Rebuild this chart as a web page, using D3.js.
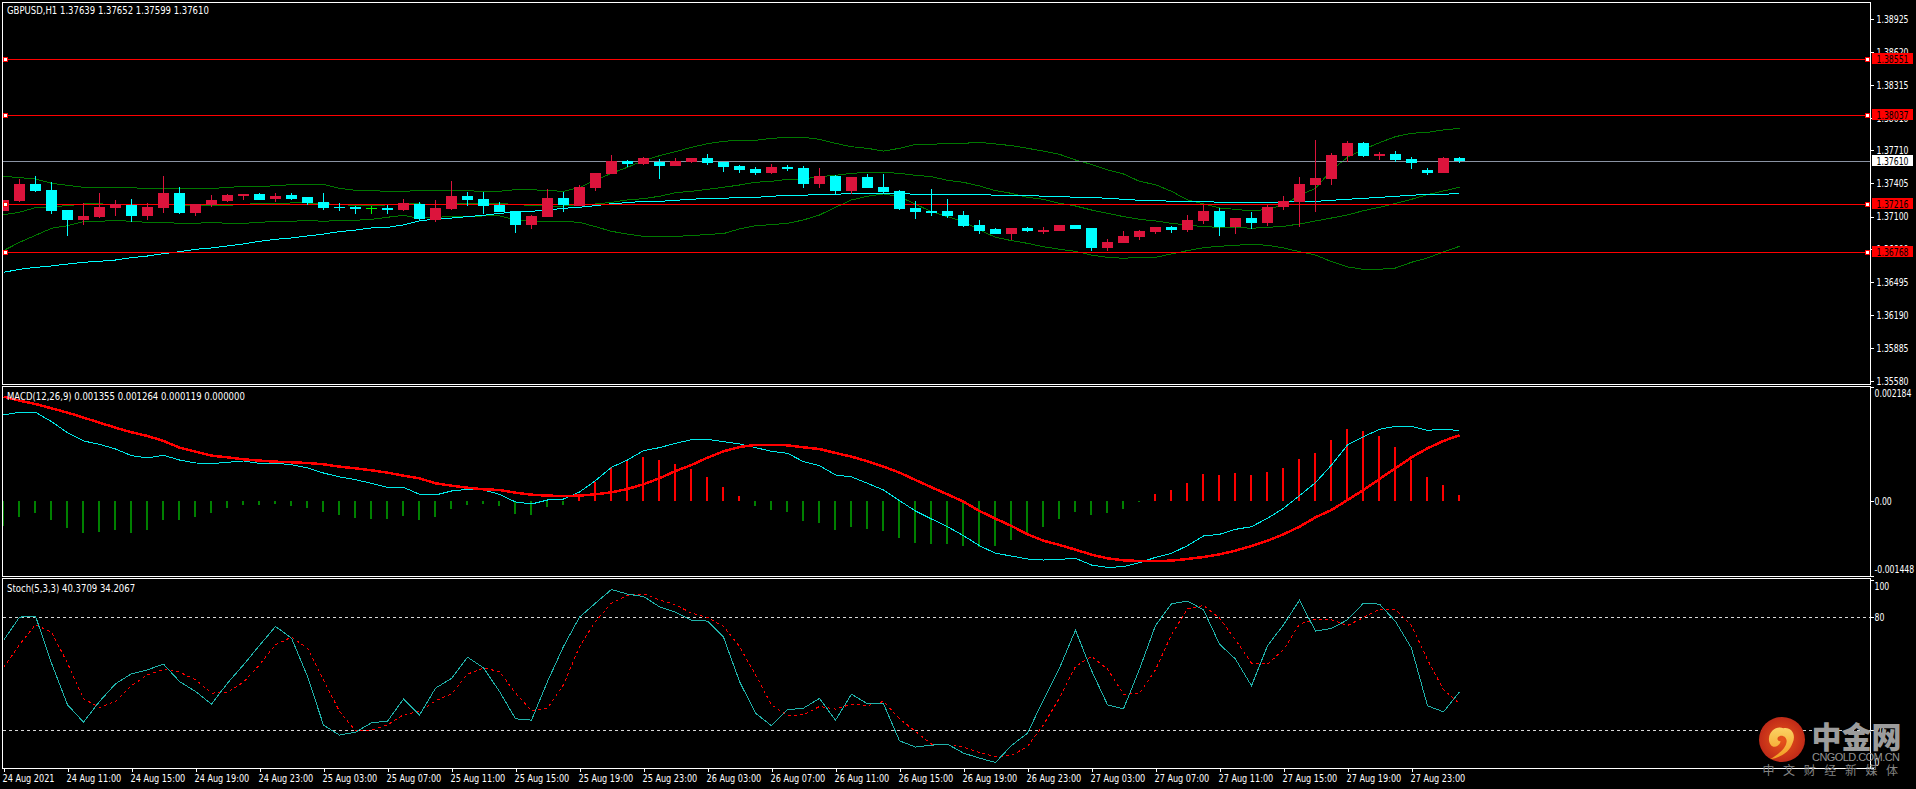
<!DOCTYPE html>
<html lang="zh-CN">
<head>
<meta charset="utf-8">
<title>GBPUSD H1</title>
<script src="https://cdn.jsdelivr.net/npm/d3@7/dist/d3.min.js"></script>
<style>
  html, body { margin: 0; padding: 0; background: #000; overflow: hidden; }
  svg { display: block; }
  text { font-family: "DejaVu Sans", sans-serif; font-stretch: condensed; font-size: 10px; fill: #fff; }
  .crisp { shape-rendering: crispEdges; }
</style>
</head>
<body>
<svg id="chart" width="1916" height="789"></svg>
<script>
// Hourly GBPUSD bars, 24 Aug 2021 07:00 onwards
const opens = [1.37151,1.37243,1.37401,1.37345,1.37160,1.37068,1.37096,1.37179,1.37207,1.37105,1.37179,1.37317,1.37133,1.37207,1.37243,1.37290,1.37308,1.37262,1.37299,1.37280,1.37234,1.37188,1.37188,1.37179,1.37179,1.37160,1.37216,1.37068,1.37170,1.37290,1.37262,1.37207,1.37151,1.37022,1.37096,1.37271,1.37197,1.37364,1.37493,1.37613,1.37585,1.37604,1.37567,1.37604,1.37641,1.37604,1.37567,1.37539,1.37502,1.37558,1.37548,1.37401,1.37475,1.37336,1.37465,1.37373,1.37336,1.37179,1.37151,1.37151,1.37114,1.37022,1.36985,1.36939,1.36994,1.36957,1.36966,1.37022,1.36994,1.36809,1.36855,1.36911,1.36957,1.37003,1.36976,1.37059,1.37151,1.37003,1.37086,1.37040,1.37188,1.37234,1.37391,1.37447,1.37659,1.37779,1.37659,1.37678,1.37632,1.37530,1.37502,1.37639];
const highs = [1.37253,1.37447,1.37475,1.37419,1.37160,1.37225,1.37317,1.37253,1.37262,1.37225,1.37475,1.37373,1.37216,1.37299,1.37308,1.37308,1.37317,1.37317,1.37317,1.37280,1.37317,1.37225,1.37197,1.37197,1.37207,1.37262,1.37234,1.37253,1.37428,1.37327,1.37327,1.37234,1.37151,1.37114,1.37354,1.37327,1.37391,1.37502,1.37669,1.37622,1.37650,1.37632,1.37641,1.37641,1.37678,1.37604,1.37576,1.37558,1.37585,1.37576,1.37567,1.37548,1.37484,1.37465,1.37493,1.37493,1.37345,1.37243,1.37354,1.37262,1.37151,1.37068,1.36994,1.36994,1.37003,1.37003,1.37022,1.37022,1.36994,1.36892,1.36966,1.36976,1.37003,1.37012,1.37114,1.37207,1.37179,1.37086,1.37142,1.37207,1.37290,1.37465,1.37807,1.37687,1.37798,1.37789,1.37696,1.37705,1.37650,1.37548,1.37650,1.37652];
const lows = [1.37151,1.37234,1.37327,1.37123,1.36920,1.37022,1.37086,1.37105,1.37049,1.37068,1.37133,1.37123,1.37105,1.37188,1.37234,1.37253,1.37253,1.37234,1.37253,1.37207,1.37160,1.37151,1.37123,1.37123,1.37123,1.37151,1.37068,1.37049,1.37160,1.37197,1.37123,1.37142,1.36948,1.36985,1.37096,1.37142,1.37197,1.37336,1.37493,1.37558,1.37576,1.37447,1.37567,1.37595,1.37576,1.37511,1.37502,1.37484,1.37493,1.37521,1.37364,1.37364,1.37308,1.37308,1.37364,1.37308,1.37160,1.37077,1.37105,1.37086,1.37003,1.36939,1.36939,1.36883,1.36957,1.36939,1.36966,1.36985,1.36782,1.36782,1.36855,1.36883,1.36939,1.36948,1.36957,1.37031,1.36920,1.36939,1.36985,1.37012,1.37160,1.37003,1.37142,1.37391,1.37604,1.37650,1.37622,1.37604,1.37539,1.37484,1.37502,1.37599];
const closes = [1.37253,1.37401,1.37336,1.37151,1.37068,1.37105,1.37188,1.37216,1.37105,1.37188,1.37317,1.37133,1.37216,1.37253,1.37299,1.37308,1.37253,1.37290,1.37262,1.37225,1.37179,1.37179,1.37170,1.37179,1.37160,1.37225,1.37077,1.37179,1.37290,1.37253,1.37197,1.37142,1.37022,1.37105,1.37271,1.37207,1.37373,1.37502,1.37613,1.37585,1.37641,1.37567,1.37613,1.37641,1.37595,1.37558,1.37530,1.37502,1.37558,1.37539,1.37401,1.37475,1.37336,1.37465,1.37364,1.37327,1.37170,1.37142,1.37133,1.37105,1.37012,1.36966,1.36939,1.36994,1.36966,1.36976,1.37022,1.36985,1.36809,1.36865,1.36920,1.36966,1.37003,1.36976,1.37068,1.37151,1.37003,1.37086,1.37040,1.37188,1.37243,1.37401,1.37456,1.37669,1.37779,1.37659,1.37678,1.37622,1.37595,1.37502,1.37641,1.37610];

// Bollinger bands and the long moving average on the price panel
const bandUpper = [1.37471,1.37459,1.37447,1.37407,1.37388,1.37370,1.37370,1.37367,1.37367,1.37357,1.37357,1.37357,1.37357,1.37357,1.37370,1.37376,1.37376,1.37385,1.37394,1.37397,1.37397,1.37360,1.37342,1.37342,1.37330,1.37333,1.37339,1.37339,1.37339,1.37339,1.37330,1.37333,1.37348,1.37348,1.37339,1.37333,1.37367,1.37437,1.37499,1.37555,1.37616,1.37662,1.37699,1.37739,1.37773,1.37795,1.37804,1.37804,1.37822,1.37832,1.37832,1.37813,1.37776,1.37745,1.37730,1.37705,1.37730,1.37767,1.37767,1.37776,1.37776,1.37786,1.37770,1.37755,1.37730,1.37705,1.37675,1.37622,1.37582,1.37530,1.37493,1.37425,1.37394,1.37333,1.37253,1.37216,1.37179,1.37166,1.37151,1.37166,1.37206,1.37296,1.37360,1.37530,1.37647,1.37721,1.37782,1.37838,1.37869,1.37878,1.37900,1.37915];
const bandMiddle = [1.37117,1.37139,1.37182,1.37191,1.37200,1.37216,1.37216,1.37213,1.37213,1.37210,1.37210,1.37207,1.37203,1.37203,1.37203,1.37213,1.37219,1.37222,1.37225,1.37225,1.37219,1.37210,1.37203,1.37203,1.37207,1.37219,1.37216,1.37210,1.37216,1.37219,1.37219,1.37222,1.37210,1.37203,1.37197,1.37197,1.37203,1.37216,1.37231,1.37253,1.37265,1.37287,1.37320,1.37333,1.37351,1.37370,1.37391,1.37416,1.37425,1.37444,1.37447,1.37468,1.37481,1.37499,1.37508,1.37508,1.37499,1.37481,1.37468,1.37434,1.37416,1.37382,1.37339,1.37314,1.37277,1.37259,1.37222,1.37197,1.37160,1.37129,1.37099,1.37074,1.37059,1.37037,1.37022,1.37006,1.37000,1.37000,1.36991,1.37000,1.37009,1.37031,1.37059,1.37086,1.37114,1.37154,1.37185,1.37222,1.37259,1.37302,1.37336,1.37370];
const bandLower = [1.36785,1.36861,1.36926,1.36991,1.37015,1.37052,1.37055,1.37065,1.37055,1.37046,1.37046,1.37037,1.37037,1.37046,1.37037,1.37037,1.37046,1.37055,1.37055,1.37065,1.37055,1.37065,1.37065,1.37074,1.37093,1.37111,1.37083,1.37093,1.37099,1.37099,1.37105,1.37105,1.37068,1.37055,1.37055,1.37055,1.37046,1.37006,1.36963,1.36938,1.36917,1.36917,1.36917,1.36923,1.36935,1.36942,1.36985,1.37015,1.37025,1.37037,1.37068,1.37114,1.37185,1.37253,1.37287,1.37308,1.37284,1.37213,1.37145,1.37099,1.37052,1.36975,1.36908,1.36877,1.36852,1.36821,1.36797,1.36778,1.36744,1.36723,1.36714,1.36723,1.36723,1.36754,1.36785,1.36812,1.36825,1.36834,1.36843,1.36834,1.36809,1.36775,1.36744,1.36683,1.36634,1.36612,1.36612,1.36624,1.36677,1.36717,1.36772,1.36825];
const movingAverage = [1.36584,1.36612,1.36630,1.36643,1.36661,1.36677,1.36686,1.36698,1.36720,1.36735,1.36757,1.36775,1.36797,1.36809,1.36828,1.36846,1.36871,1.36889,1.36902,1.36920,1.36938,1.36960,1.36975,1.36994,1.37000,1.37022,1.37059,1.37077,1.37086,1.37099,1.37111,1.37129,1.37142,1.37148,1.37160,1.37176,1.37185,1.37200,1.37219,1.37228,1.37240,1.37240,1.37250,1.37259,1.37268,1.37268,1.37277,1.37277,1.37287,1.37296,1.37296,1.37305,1.37305,1.37314,1.37314,1.37314,1.37314,1.37305,1.37305,1.37305,1.37305,1.37305,1.37296,1.37296,1.37296,1.37287,1.37287,1.37277,1.37277,1.37268,1.37259,1.37250,1.37250,1.37240,1.37240,1.37240,1.37231,1.37231,1.37231,1.37231,1.37231,1.37240,1.37240,1.37250,1.37259,1.37268,1.37277,1.37287,1.37296,1.37305,1.37305,1.37314];

// Horizontal support and resistance levels, and the current price
const levels = [1.38551, 1.38037, 1.37216, 1.36768];
const lastPrice = 1.37610;

// MACD(12,26,9)
const macdLine = [0.001654,0.001705,0.001705,0.001526,0.001314,0.001154,0.001090,0.001000,0.000872,0.000827,0.000878,0.000788,0.000731,0.000718,0.000744,0.000769,0.000724,0.000724,0.000699,0.000635,0.000538,0.000462,0.000410,0.000340,0.000263,0.000263,0.000128,0.000115,0.000192,0.000224,0.000212,0.000128,-0.000019,-0.000058,0.000019,0.000038,0.000173,0.000391,0.000647,0.000788,0.000968,0.001026,0.001109,0.001179,0.001186,0.001141,0.001096,0.001026,0.000955,0.000917,0.000756,0.000679,0.000500,0.000462,0.000340,0.000212,0.000006,-0.000192,-0.000346,-0.000494,-0.000667,-0.000859,-0.001006,-0.001058,-0.001115,-0.001135,-0.001122,-0.001103,-0.001231,-0.001276,-0.001263,-0.001186,-0.001083,-0.001006,-0.000859,-0.000673,-0.000641,-0.000545,-0.000494,-0.000333,-0.000141,0.000103,0.000353,0.000692,0.001077,0.001237,0.001378,0.001436,0.001436,0.001359,0.001378,0.001355];
const macdSignal = [0.002006,0.001929,0.001865,0.001782,0.001699,0.001603,0.001506,0.001410,0.001321,0.001250,0.001154,0.001026,0.000949,0.000872,0.000840,0.000801,0.000776,0.000756,0.000744,0.000731,0.000705,0.000660,0.000628,0.000590,0.000545,0.000487,0.000436,0.000340,0.000295,0.000256,0.000224,0.000212,0.000160,0.000122,0.000103,0.000096,0.000103,0.000128,0.000167,0.000231,0.000321,0.000436,0.000577,0.000692,0.000833,0.000955,0.001038,0.001077,0.001077,0.001071,0.001032,0.001000,0.000923,0.000853,0.000763,0.000660,0.000545,0.000404,0.000263,0.000128,-0.000013,-0.000192,-0.000340,-0.000481,-0.000641,-0.000763,-0.000846,-0.000936,-0.001032,-0.001103,-0.001141,-0.001154,-0.001154,-0.001147,-0.001115,-0.001077,-0.001026,-0.000955,-0.000865,-0.000763,-0.000641,-0.000494,-0.000314,-0.000173,0.000019,0.000212,0.000423,0.000628,0.000840,0.001013,0.001154,0.001264];
const macdHistogram = [-0.000481,-0.000308,-0.000231,-0.000365,-0.000519,-0.000615,-0.000596,-0.000558,-0.000615,-0.000558,-0.000365,-0.000365,-0.000308,-0.000231,-0.000135,-0.000077,-0.000077,-0.000058,-0.000096,-0.000135,-0.000212,-0.000269,-0.000327,-0.000346,-0.000346,-0.000288,-0.000365,-0.000308,-0.000154,-0.000077,-0.000058,-0.000096,-0.000250,-0.000269,-0.000115,-0.000077,0.000090,0.000365,0.000647,0.000769,0.000846,0.000788,0.000712,0.000615,0.000462,0.000269,0.000096,-0.000096,-0.000173,-0.000212,-0.000385,-0.000423,-0.000558,-0.000500,-0.000538,-0.000577,-0.000712,-0.000808,-0.000827,-0.000827,-0.000865,-0.000885,-0.000865,-0.000750,-0.000654,-0.000500,-0.000346,-0.000212,-0.000269,-0.000231,-0.000154,-0.000013,0.000135,0.000212,0.000346,0.000519,0.000500,0.000538,0.000500,0.000558,0.000635,0.000808,0.000923,0.001173,0.001385,0.001346,0.001250,0.001038,0.000788,0.000462,0.000308,0.000119];

// Stochastic(5,3,3)
const stochMain = [67.69,80.08,80.61,55.66,33.55,24.35,35.32,44.69,50.00,52.12,55.13,45.93,40.62,33.90,45.05,54.78,65.04,75.13,68.93,48.59,22.76,17.45,19.04,24.00,24.88,36.56,28.06,42.39,47.53,58.85,53.19,40.62,26.12,25.41,45.93,64.51,80.08,87.51,94.77,92.29,91.05,85.56,82.73,78.49,77.96,69.46,45.93,29.12,22.40,30.89,31.78,36.91,25.41,39.21,34.08,34.08,14.44,11.08,12.14,12.67,7.89,5.24,2.94,11.96,18.51,36.20,53.01,73.18,51.77,33.55,31.43,52.48,75.66,87.16,88.57,83.97,65.75,57.79,43.63,64.86,76.01,89.10,72.65,74.06,78.66,87.51,86.98,77.78,63.63,33.02,29.83,40.37];
const stochSignal = [53.36,65.39,76.01,72.12,55.66,36.73,32.13,35.32,43.63,49.47,52.30,50.89,46.82,39.74,40.10,45.58,54.78,65.39,69.46,63.62,46.82,30.01,19.75,20.10,22.93,28.24,30.01,35.67,39.39,49.82,53.01,51.24,39.74,30.36,31.78,44.16,64.51,77.78,87.51,91.58,92.47,89.28,86.63,82.20,79.90,75.13,64.51,49.47,33.55,27.71,28.24,32.66,31.25,33.90,33.02,35.32,26.12,19.39,12.67,12.32,11.08,8.25,5.95,6.65,11.43,22.93,37.09,53.89,59.20,52.48,39.21,39.56,52.12,70.70,84.50,86.27,79.55,68.05,55.66,55.13,62.74,76.36,79.02,78.66,75.66,79.90,84.32,83.97,75.66,57.43,41.51,34.21];
const stochLevels = [80, 20];

// Axis labels
const priceTicks = [1.38925,1.38620,1.38315,1.38010,1.37710,1.37405,1.37100,1.36800,1.36495,1.36190,1.35885,1.35580];
const macdTicks = [0.002184, 0, -0.001448];
const macdTickLabels = ["0.002184", "0.00", "-0.001448"];
const stochTicks = [100, 80, 20, 0];
const timeTickIndex = [0,4,8,12,16,20,24,28,32,36,40,44,48,52,56,60,64,68,72,76,80,84,88];
const timeTickLabels = ["24 Aug 2021","24 Aug 11:00","24 Aug 15:00","24 Aug 19:00","24 Aug 23:00","25 Aug 03:00","25 Aug 07:00","25 Aug 11:00","25 Aug 15:00","25 Aug 19:00","25 Aug 23:00","26 Aug 03:00","26 Aug 07:00","26 Aug 11:00","26 Aug 15:00","26 Aug 19:00","26 Aug 23:00","27 Aug 03:00","27 Aug 07:00","27 Aug 11:00","27 Aug 15:00","27 Aug 19:00","27 Aug 23:00"];

// Panel headers
const priceHeader = "GBPUSD,H1  1.37639 1.37652 1.37599 1.37610";
const macdHeader = "MACD(12,26,9) 0.001355 0.001264 0.000119 0.000000";
const stochHeader = "Stoch(5,3,3) 40.3709 34.2067";

const COLORS = {
  up: "#dc143c", down: "#00ffff", flat: "#00ff00",
  band: "#007800", ma: "#00ffff", level: "#ff0000", last: "#8a93a3",
  histUp: "#ff0000", histDown: "#008000",
  macd: "#00e8e8", signal: "#ff0000",
  stoch: "#20b2aa", stochSignal: "#ff0000", stochLevel: "#d8d8d8"
};

const frameLeft = 2.5, frameRight = 1870.5;
const panels = {
  price: { top: 2.5, bottom: 384.5 },
  macd: { top: 386.5, bottom: 576.5 },
  stoch: { top: 578.5, bottom: 768.5 }
};

const svg = d3.select("#chart");
svg.append("rect").attr("width", 1916).attr("height", 789).attr("fill", "#000");

const bars = d3.range(opens.length);
const x = d3.scaleLinear().domain([0, bars.length - 1]).range([3.5, 1459.5]);
const yPrice = d3.scaleLinear().domain([1.3558, 1.38925]).range([381, 19]);
const yMacd = d3.scaleLinear().domain([-0.001448, 0.002184]).range([576.3, 387.4]);
const yStoch = d3.scaleLinear().domain([0, 100]).range([768, 579.6]);

// Clip each panel so nothing spills across the frame
Object.entries(panels).forEach(([name, p]) => {
  svg.append("clipPath").attr("id", "clip-" + name).append("rect")
    .attr("x", frameLeft).attr("y", p.top)
    .attr("width", frameRight - frameLeft).attr("height", p.bottom - p.top);
});
const layer = name => svg.append("g").attr("clip-path", `url(#clip-${name})`);

const seriesLine = (scale, values) => d3.line()
  .x(i => x(i))
  .y(i => scale(values[i]))(bars);

function drawLine(g, scale, values, color, width, dash) {
  g.append("path")
    .attr("class", "crisp")
    .attr("d", seriesLine(scale, values))
    .attr("fill", "none")
    .attr("stroke", color)
    .attr("stroke-width", width)
    .attr("stroke-dasharray", dash || null);
}

// Price panel: indicators, then levels, then candles on top
const pricePanel = layer("price");
[bandUpper, bandMiddle, bandLower].forEach(v => drawLine(pricePanel, yPrice, v, COLORS.band, 1));
drawLine(pricePanel, yPrice, movingAverage, COLORS.ma, 1);

pricePanel.append("line").attr("class", "crisp")
  .attr("x1", frameLeft).attr("x2", frameRight)
  .attr("y1", Math.round(yPrice(lastPrice)) + 0.5).attr("y2", Math.round(yPrice(lastPrice)) + 0.5)
  .attr("stroke", COLORS.last);

pricePanel.selectAll(".level").data(levels).join("line")
  .attr("class", "level crisp")
  .attr("x1", frameLeft).attr("x2", frameRight)
  .attr("y1", d => Math.round(yPrice(d)) + 0.5).attr("y2", d => Math.round(yPrice(d)) + 0.5)
  .attr("stroke", COLORS.level);

const candleColor = i => closes[i] > opens[i] ? COLORS.up : closes[i] < opens[i] ? COLORS.down : COLORS.flat;

const candles = pricePanel.selectAll(".candle").data(bars).join("g").attr("class", "candle crisp");
candles.append("line")
  .attr("x1", i => x(i)).attr("x2", i => x(i))
  .attr("y1", i => Math.round(yPrice(highs[i])))
  .attr("y2", i => Math.round(yPrice(lows[i])))
  .attr("stroke", candleColor);
candles.append("rect")
  .attr("x", i => x(i) - 5.5)
  .attr("width", 11)
  .attr("y", i => Math.round(yPrice(Math.max(opens[i], closes[i]))))
  .attr("height", i => Math.max(1, Math.round(yPrice(Math.min(opens[i], closes[i]))) - Math.round(yPrice(Math.max(opens[i], closes[i])))))
  .attr("fill", candleColor);

// Grab handles at both ends of every level line
const handleXs = [5.5, 1867.5];
levels.forEach(level => {
  handleXs.forEach(hx => {
    svg.append("rect").attr("class", "crisp")
      .attr("x", hx - 2).attr("y", Math.round(yPrice(level)) - 1.5)
      .attr("width", 4).attr("height", 4)
      .attr("fill", "#fff").attr("stroke", COLORS.level);
  });
});

// MACD panel
const macdPanel = layer("macd");
macdPanel.selectAll(".hist").data(bars).join("rect")
  .attr("class", "hist crisp")
  .attr("x", i => x(i) - 1.5)
  .attr("width", 2)
  .attr("y", i => Math.round(Math.min(yMacd(0), yMacd(macdHistogram[i]))))
  .attr("height", i => Math.max(1, Math.round(Math.abs(yMacd(macdHistogram[i]) - yMacd(0)))))
  .attr("fill", i => macdHistogram[i] >= 0 ? COLORS.histUp : COLORS.histDown);
drawLine(macdPanel, yMacd, macdLine, COLORS.macd, 1);
drawLine(macdPanel, yMacd, macdSignal, COLORS.signal, 2.5);

// Stochastic panel
const stochPanel = layer("stoch");
stochPanel.selectAll(".stoch-level").data(stochLevels).join("line")
  .attr("class", "stoch-level crisp")
  .attr("x1", frameLeft).attr("x2", frameRight)
  .attr("y1", d => Math.round(yStoch(d)) + 0.5).attr("y2", d => Math.round(yStoch(d)) + 0.5)
  .attr("stroke", COLORS.stochLevel)
  .attr("stroke-dasharray", "3 3");
drawLine(stochPanel, yStoch, stochSignal, COLORS.stochSignal, 1, "3 3");
drawLine(stochPanel, yStoch, stochMain, COLORS.stoch, 1);

// Panel frames
Object.values(panels).forEach(p => {
  svg.append("rect").attr("class", "crisp")
    .attr("x", frameLeft).attr("y", p.top)
    .attr("width", frameRight - frameLeft).attr("height", p.bottom - p.top)
    .attr("fill", "none").attr("stroke", "#fff");
});

// Value axes on the right
function styleAxis(g) {
  g.select(".domain").remove();
  g.selectAll("line").attr("stroke", "#fff").attr("class", "crisp");
  g.attr("font-family", null).attr("font-size", null);
}

const priceAxis = svg.append("g").attr("transform", `translate(${frameRight},0)`)
  .call(d3.axisRight(yPrice).tickValues(priceTicks).tickFormat(d3.format(".5f")).tickSize(3).tickPadding(3));
styleAxis(priceAxis);

const macdAxis = svg.append("g").attr("transform", `translate(${frameRight},0)`)
  .call(d3.axisRight(yMacd).tickValues(macdTicks).tickFormat((d, i) => macdTickLabels[i]).tickSize(3).tickPadding(1));
styleAxis(macdAxis);
macdAxis.selectAll("text")
  .attr("dy", (d, i) => ["0.95em", "0.32em", "-0.35em"][i]);

const stochAxis = svg.append("g").attr("transform", `translate(${frameRight},0)`)
  .call(d3.axisRight(yStoch).tickValues(stochTicks).tickSize(3).tickPadding(1));
styleAxis(stochAxis);
stochAxis.selectAll("text")
  .attr("dy", (d, i) => ["0.95em", "0.32em", "0.32em", "-0.3em"][i]);

// Price tags sitting over the value axis
function priceTag(value, fill) {
  const yc = Math.round(yPrice(value));
  svg.append("rect").attr("class", "crisp")
    .attr("x", 1872).attr("y", yc - 6).attr("width", 41).attr("height", 11)
    .attr("fill", fill);
  svg.append("text")
    .attr("x", 1876.5).attr("y", yc + 3.5)
    .style("fill", "#000")
    .text(d3.format(".5f")(value));
}
levels.forEach(v => priceTag(v, "#ff0000"));
priceTag(lastPrice, "#ffffff");

// Time axis along the bottom of the last panel
const timeAxis = svg.append("g").attr("transform", `translate(0,${panels.stoch.bottom})`)
  .call(d3.axisBottom(x).tickValues(timeTickIndex).tickFormat((d, i) => timeTickLabels[i]).tickSize(3).tickPadding(3));
styleAxis(timeAxis);
timeAxis.selectAll("text").attr("text-anchor", "start").attr("dx", -1.5).classed("time-label", true);

// Panel headers
[[priceHeader, 14], [macdHeader, 400], [stochHeader, 592]].forEach(([label, y]) => {
  svg.append("text").attr("class", "panel-header").attr("x", 7).attr("y", y).text(label);
});

// The terminal face is narrower than the installed one: narrow every label by the
// ratio that makes a five-decimal price 32 px wide. Headers and dates run a little wider.
const probe = svg.append("text").text("1.38925");
const narrow = 32 / probe.node().getComputedTextLength();
probe.remove();
svg.selectAll("text").each(function () {
  const extra = this.classList.contains("panel-header") ? 1.1 : this.classList.contains("time-label") ? 1.05 : 1;
  d3.select(this)
    .attr("textLength", this.getComputedTextLength() * narrow * extra)
    .attr("lengthAdjust", "spacingAndGlyphs");
});

// Publisher mark, bottom right
const mark = svg.append("g").attr("class", "publisher-mark");
const defs = svg.append("defs");
const logoGrad = defs.append("radialGradient").attr("id", "logo-fill");
logoGrad.append("stop").attr("offset", "0%").attr("stop-color", "#e9561a");
logoGrad.append("stop").attr("offset", "100%").attr("stop-color", "#c02a18");
const swirlGrad = defs.append("linearGradient").attr("id", "swirl-fill").attr("x1", 0).attr("y1", 0).attr("x2", 0).attr("y2", 1);
swirlGrad.append("stop").attr("offset", "0%").attr("stop-color", "#fbd364");
swirlGrad.append("stop").attr("offset", "100%").attr("stop-color", "#f39a1f");
mark.append("ellipse").attr("cx", 1782).attr("cy", 739.5).attr("rx", 23).attr("ry", 22.5)
  .attr("fill", "url(#logo-fill)");
mark.append("path")
  .attr("transform", "translate(1750,700) scale(0.3333)")
  .attr("d", "M57 115C58 92 82 76 100 85C122 80 140 102 128 128C118 158 90 172 60 178C82 164 108 148 110 124C110 108 92 102 84 112C80 118 84 124 92 124C88 140 70 146 62 134C58 128 56 122 57 115Z")
  .attr("fill", "url(#swirl-fill)");
mark.append("text").attr("x", 1811.5).attr("y", 748)
  .style("font-family", '"Noto Sans CJK SC"').style("font-size", "30px").style("font-weight", 900)
  .style("fill", "#9c9c9c").text("中金网");
mark.append("text").attr("x", 1812).attr("y", 761)
  .attr("textLength", 88).attr("lengthAdjust", "spacing")
  .style("font-family", '"Liberation Sans"').style("font-size", "11px").style("fill", "#949494")
  .text("CNGOLD.COM.CN");
mark.append("text").attr("x", 1762.5).attr("y", 775)
  .style("font-family", '"Noto Sans CJK SC"').style("font-size", "12px").style("letter-spacing", "8.6px")
  .style("fill", "#858585").text("中文财经新媒体");
</script>
</body>
</html>
